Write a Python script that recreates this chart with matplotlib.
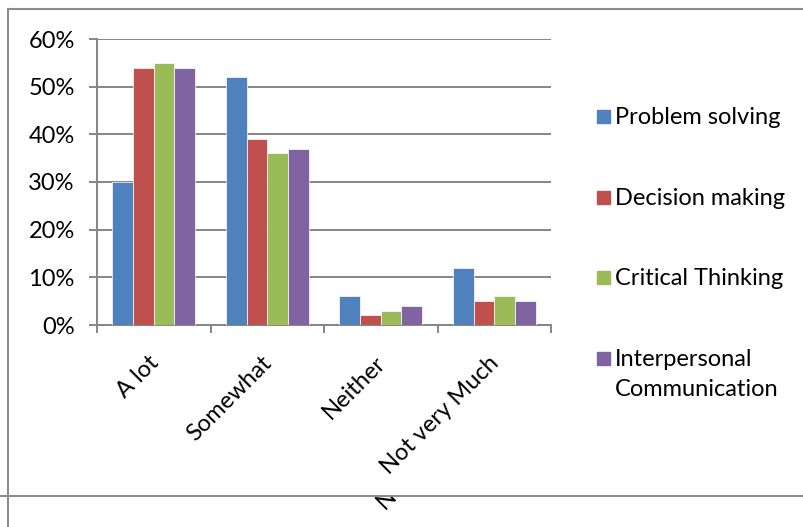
import numpy as np
import matplotlib
matplotlib.use('Agg')
import matplotlib.pyplot as plt
from matplotlib.patches import Rectangle
from matplotlib.lines import Line2D
from matplotlib.transforms import ScaledTranslation

plt.rcParams['font.family'] = ['Lato', 'DejaVu Sans']

categories = ['A lot', 'Somewhat', 'Neither', 'Not very Much']
series = ['Problem solving', 'Decision making', 'Critical Thinking',
          'Interpersonal\nCommunication']
values = {
    'Problem solving': [30, 52, 6, 12],
    'Decision making': [54, 39, 2, 5],
    'Critical Thinking': [55, 36, 3, 6],
    'Interpersonal\nCommunication': [54, 37, 4, 5],
}
colors = ['#4F81BD', '#C0504D', '#9BBB59', '#8064A2']
yticks = [0, 10, 20, 30, 40, 50, 60]

W, H = 804, 527
fs = 17
fig = plt.figure(figsize=(W / 100, H / 100), dpi=100)
ax = fig.add_axes([97 / W, 1 - 325 / H, 454 / W, 286 / H])

x = np.arange(len(categories))
bw = 0.182
for i, name in enumerate(series):
    ax.bar(x + (i - 1.5) * bw, values[name], bw, color=colors[i],
           edgecolor='white', linewidth=0.5, zorder=3)

ax.set_xlim(-0.5, 3.5)
ax.set_ylim(0, 60)
ax.set_yticks(yticks)
ax.set_yticklabels([f'{v}%' for v in yticks], fontsize=fs)
ax.grid(axis='y', color='#868686', linewidth=1.4, zorder=0)
for s in ['top', 'right']:
    ax.spines[s].set_visible(False)
for s in ['left', 'bottom']:
    ax.spines[s].set_color('#868686')
    ax.spines[s].set_linewidth(1.4)
ax.tick_params(axis='y', length=6, color='#868686', width=1.4, pad=10)
ax.set_xticks(x)
ax.set_xticklabels(categories, rotation=45, ha='right', va='top',
                   rotation_mode='anchor', fontsize=fs)
ax.tick_params(axis='x', which='major', length=0, pad=11)
shift = ScaledTranslation(-0.06, -0.12, fig.dpi_scale_trans)
for lab in ax.get_xticklabels():
    lab.set_transform(lab.get_transform() + shift)
ax.set_xticks(np.arange(-0.5, 4, 1), minor=True)
ax.tick_params(axis='x', which='minor', length=6, color='#868686', width=1.4)

# legend
ys = [116, 197, 277, 358]
for i, name in enumerate(series):
    fig.add_artist(Rectangle((597 / W, 1 - (ys[i] + 7) / H), 13 / W, 13 / H,
                             transform=fig.transFigure, color=colors[i]))
    fig.text(615 / W, 1 - (ys[i] - 9) / H, name, fontsize=fs, va='top',
             ha='left', linespacing=1.5)

# chart border lines
gray = '#8c8c8c'
fig.add_artist(Line2D([8 / W, 8 / W], [0, 1 - 9 / H], color=gray, lw=1.5,
                      transform=fig.transFigure))
fig.add_artist(Line2D([8 / W, 1], [1 - 9 / H, 1 - 9 / H], color=gray, lw=1.5,
                      transform=fig.transFigure))
fig.add_artist(Line2D([0, 1], [1 - 496 / H, 1 - 496 / H], color=gray, lw=1.5,
                      transform=fig.transFigure))

# clipped leftover glyph below the lower border
ax2 = fig.add_axes([0, 0, 1, 1 - 497 / H])
ax2.axis('off')
ax2.set_xlim(0, W)
ax2.set_ylim(H, 497)
ax2.text(387, 499, 'N', fontsize=fs, rotation=45, ha='center', va='center',
         clip_on=True)

fig.savefig('out.png', dpi=100)
